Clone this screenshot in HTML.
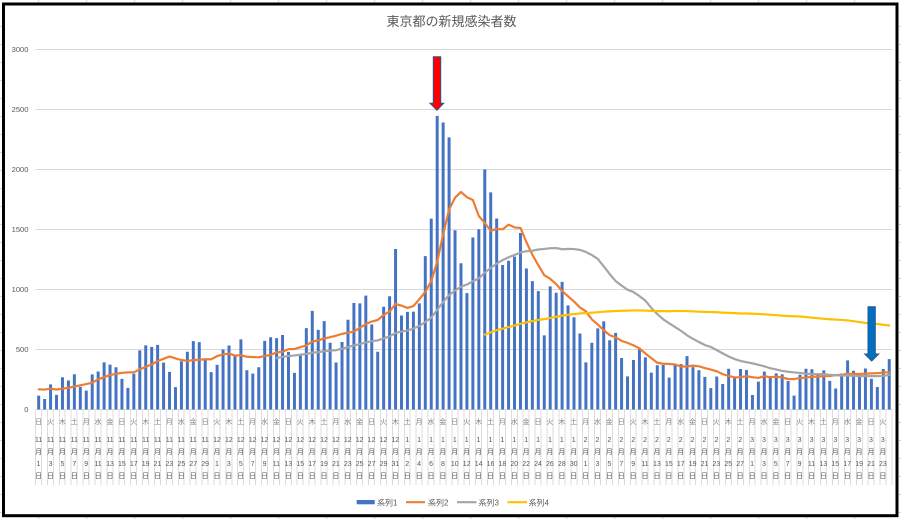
<!DOCTYPE html>
<html><head><meta charset="utf-8">
<style>
html,body{margin:0;padding:0;background:#fff;}
body{width:901px;height:519px;position:relative;overflow:hidden;font-family:"Liberation Sans","Noto Sans CJK JP",sans-serif;}
svg{position:absolute;left:0;top:0;}
#sep{position:absolute;left:35.2px;top:410px;width:857.5px;height:75px;background:repeating-linear-gradient(to right,#dcdcdc 0,#dcdcdc 1px,transparent 1px,transparent 5.948px);}
.row{position:absolute;left:32.7px;display:flex;font-size:7px;white-space:nowrap;}
.row i{font-style:normal;flex:none;width:11.896px;text-align:center;}
#wd{top:417px;line-height:11px;color:#808080;}
#dt{top:435.4px;line-height:11.7px;color:#595959;}
</style></head><body>
<div id="sep"></div>
<svg width="901" height="519" viewBox="0 0 901 519">
  <!-- spreadsheet grid ticks outside the frame -->
  <g stroke="#d4d4d4" stroke-width="1">
    <path d="M38.7,0v3M86.7,0v3M134.7,0v3M182.7,0v3M230.7,0v3M278.7,0v3M326.7,0v3M374.7,0v3M422.7,0v3M470.7,0v3M518.7,0v3M566.7,0v3M614.7,0v3M662.7,0v3M710.7,0v3M758.7,0v3M806.7,0v3M854.7,0v3"/>
    <path d="M38.7,517v2M86.7,517v2M134.7,517v2M182.7,517v2M230.7,517v2M278.7,517v2M326.7,517v2M374.7,517v2M422.7,517v2M470.7,517v2M518.7,517v2M566.7,517v2M614.7,517v2M662.7,517v2M710.7,517v2M758.7,517v2M806.7,517v2M854.7,517v2"/>
    <path d="M0,26.5h2M0,44.5h2M0,62.5h2M0,80.5h2M0,98.5h2M0,116.5h2M0,134.5h2M0,152.5h2M0,170.5h2M0,188.5h2M0,206.5h2M0,224.5h2M0,242.5h2M0,260.5h2M0,278.5h2M0,296.5h2M0,314.5h2M0,332.5h2M0,350.5h2M0,368.5h2M0,386.5h2M0,404.5h2M0,422.5h2M0,440.5h2M0,458.5h2M0,476.5h2M0,494.5h2M0,512.5h2"/>
    <path d="M899,26.5h2M899,44.5h2M899,62.5h2M899,80.5h2M899,98.5h2M899,116.5h2M899,134.5h2M899,152.5h2M899,170.5h2M899,188.5h2M899,206.5h2M899,224.5h2M899,242.5h2M899,260.5h2M899,278.5h2M899,296.5h2M899,314.5h2M899,332.5h2M899,350.5h2M899,368.5h2M899,386.5h2M899,404.5h2M899,422.5h2M899,440.5h2M899,458.5h2M899,476.5h2M899,494.5h2M899,512.5h2"/>
  </g>
  <!-- frame -->
  <rect x="3.5" y="4" width="893.5" height="511.7" fill="none" stroke="#000" stroke-width="3"/>
  <!-- title -->
  <text x="451.5" y="26" text-anchor="middle" font-size="13" fill="#595959" font-family="Liberation Sans, Noto Sans CJK JP, sans-serif">東京都の新規感染者数</text>
  <!-- gridlines -->
  <g stroke="#d9d9d9" stroke-width="1">
    <path d="M35.7,49.5H892.2M35.7,109.5H892.2M35.7,169.5H892.2M35.7,229.5H892.2M35.7,289.5H892.2M35.7,349.5H892.2M35.7,409.5H892.2"/>
  </g>
  <!-- y labels -->
  <g font-size="7.6" fill="#595959" text-anchor="end" font-family="Liberation Sans, sans-serif">
    <text x="28.5" y="52.2">3000</text>
    <text x="28.5" y="112.2">2500</text>
    <text x="28.5" y="172.2">2000</text>
    <text x="28.5" y="232.2">1500</text>
    <text x="28.5" y="292.2">1000</text>
    <text x="28.5" y="352.2">500</text>
    <text x="28.5" y="412.2">0</text>
  </g>
  <!-- bars -->
  <g transform="translate(35.7,409.5) scale(5.948,-0.12)">
    <path fill="#4472c4" d="M0.25,0
v116h.5v-116m.5,0v87h.5v-87m.5,0v209h.5v-209m.5,0v122h.5v-122m.5,0v269h.5v-269m.5,0v242h.5v-242m.5,0v294h.5v-294m.5,0v189h.5v-189m.5,0v157h.5v-157m.5,0v293h.5v-293m.5,0
v317h.5v-317m.5,0v393h.5v-393m.5,0v374h.5v-374m.5,0v352h.5v-352m.5,0v255h.5v-255m.5,0v180h.5v-180m.5,0v298h.5v-298m.5,0v493h.5v-493m.5,0v534h.5v-534m.5,0v522h.5v-522m.5,0
v539h.5v-539m.5,0v391h.5v-391m.5,0v314h.5v-314m.5,0v186h.5v-186m.5,0v401h.5v-401m.5,0v481h.5v-481m.5,0v570h.5v-570m.5,0v561h.5v-561m.5,0v418h.5v-418m.5,0v311h.5v-311m.5,0
v372h.5v-372m.5,0v500h.5v-500m.5,0v533h.5v-533m.5,0v449h.5v-449m.5,0v584h.5v-584m.5,0v327h.5v-327m.5,0v299h.5v-299m.5,0v352h.5v-352m.5,0v572h.5v-572m.5,0v602h.5v-602m.5,0
v595h.5v-595m.5,0v621h.5v-621m.5,0v480h.5v-480m.5,0v305h.5v-305m.5,0v460h.5v-460m.5,0v678h.5v-678m.5,0v822h.5v-822m.5,0v664h.5v-664m.5,0v736h.5v-736m.5,0v556h.5v-556m.5,0
v392h.5v-392m.5,0v563h.5v-563m.5,0v748h.5v-748m.5,0v888h.5v-888m.5,0v884h.5v-884m.5,0v949h.5v-949m.5,0v708h.5v-708m.5,0v481h.5v-481m.5,0v856h.5v-856m.5,0v944h.5v-944m.5,0
v1337h.5v-1337m.5,0
v783h.5v-783m.5,0v814h.5v-814m.5,0v816h.5v-816m.5,0v884h.5v-884m.5,0v1278h.5v-1278m.5,0v1591h.5v-1591m.5,0v2447h.5v-2447m.5,0v2392h.5v-2392m.5,0v2268h.5v-2268m.5,0v1494h.5v-1494m.5,0
v1219h.5v-1219m.5,0v970h.5v-970m.5,0v1433h.5v-1433m.5,0v1502h.5v-1502m.5,0v2001h.5v-2001m.5,0v1809h.5v-1809m.5,0v1592h.5v-1592m.5,0v1204h.5v-1204m.5,0v1240h.5v-1240m.5,0v1274h.5v-1274m.5,0
v1471h.5v-1471m.5,0v1175h.5v-1175m.5,0v1070h.5v-1070m.5,0v986h.5v-986m.5,0v618h.5v-618m.5,0v1026h.5v-1026m.5,0v973h.5v-973m.5,0v1064h.5v-1064m.5,0v868h.5v-868m.5,0v769h.5v-769m.5,0
v633h.5v-633m.5,0
v393h.5v-393m.5,0v556h.5v-556m.5,0v676h.5v-676m.5,0v734h.5v-734m.5,0v577h.5v-577m.5,0v639h.5v-639m.5,0v429h.5v-429m.5,0v276h.5v-276m.5,0v412h.5v-412m.5,0v500h.5v-500m.5,0
v434h.5v-434m.5,0v307h.5v-307m.5,0v369h.5v-369m.5,0v371h.5v-371m.5,0v266h.5v-266m.5,0v378h.5v-378m.5,0v378h.5v-378m.5,0v445h.5v-445m.5,0v353h.5v-353m.5,0v327h.5v-327m.5,0
v272h.5v-272m.5,0v178h.5v-178m.5,0v275h.5v-275m.5,0v213h.5v-213m.5,0v340h.5v-340m.5,0v270h.5v-270m.5,0v337h.5v-337m.5,0v329h.5v-329m.5,0
v121h.5v-121m.5,0v232h.5v-232m.5,0v316h.5v-316m.5,0v279h.5v-279m.5,0v301h.5v-301m.5,0v293h.5v-293m.5,0v237h.5v-237m.5,0v116h.5v-116m.5,0v290h.5v-290m.5,0v340h.5v-340m.5,0
v335h.5v-335m.5,0v304h.5v-304m.5,0v326h.5v-326m.5,0v239h.5v-239m.5,0v175h.5v-175m.5,0v300h.5v-300m.5,0v409h.5v-409m.5,0v323h.5v-323m.5,0v303h.5v-303m.5,0v342h.5v-342m.5,0
v256h.5v-256m.5,0v187h.5v-187m.5,0v337h.5v-337m.5,0v420h.5v-420m.5,0"/>
  </g>
  <!-- lines -->
  <polyline id="l2" fill="none" stroke="#ed7d31" stroke-width="2.2" stroke-linejoin="round" stroke-linecap="round" points=""/>
  <polyline id="l3" fill="none" stroke="#a5a5a5" stroke-width="2.2" stroke-linejoin="round" stroke-linecap="round" points=""/>
  <polyline id="l4" fill="none" stroke="#ffc000" stroke-width="2.2" stroke-linejoin="round" stroke-linecap="round" points=""/>
  <!-- arrows -->
  <polygon points="433.3,56.7 440.7,56.7 440.7,103.3 443.7,103.3 437,110.3 430,103.3 433.3,103.3" fill="#ff0000" stroke="#2f528f" stroke-width="1"/>
  <polygon points="868,306.7 875.3,306.7 875.3,354 878.7,354 871.7,361 864.7,354 868,354" fill="#0070c0" stroke="#2f528f" stroke-width="1"/>
  <!-- legend -->
  <g font-size="8" fill="#595959" font-family="Liberation Sans, Noto Sans CJK JP, sans-serif">
    <rect x="356.7" y="500" width="18" height="4.3" fill="#4472c4"/>
    <text x="377" y="505.5">系列1</text>
    <line x1="406" y1="502.2" x2="425" y2="502.2" stroke="#ed7d31" stroke-width="2.2"/>
    <text x="428" y="505.5">系列2</text>
    <line x1="457" y1="502.2" x2="476.5" y2="502.2" stroke="#a5a5a5" stroke-width="2.2"/>
    <text x="478.5" y="505.5">系列3</text>
    <line x1="507.5" y1="502.2" x2="527" y2="502.2" stroke="#ffc000" stroke-width="2.2"/>
    <text x="528.5" y="505.5">系列4</text>
  </g>
</svg>
<div class="row" id="wd"><i>日</i><i>火</i><i>木</i><i>土</i><i>月</i><i>水</i><i>金</i><i>日</i><i>火</i><i>木</i><i>土</i><i>月</i><i>水</i><i>金</i><i>日</i><i>火</i><i>木</i><i>土</i><i>月</i><i>水</i><i>金</i><i>日</i><i>火</i><i>木</i><i>土</i><i>月</i><i>水</i><i>金</i><i>日</i><i>火</i><i>木</i><i>土</i><i>月</i><i>水</i><i>金</i><i>日</i><i>火</i><i>木</i><i>土</i><i>月</i><i>水</i><i>金</i><i>日</i><i>火</i><i>木</i><i>土</i><i>月</i><i>水</i><i>金</i><i>日</i><i>火</i><i>木</i><i>土</i><i>月</i><i>水</i><i>金</i><i>日</i><i>火</i><i>木</i><i>土</i><i>月</i><i>水</i><i>金</i><i>日</i><i>火</i><i>木</i><i>土</i><i>月</i><i>水</i><i>金</i><i>日</i><i>火</i></div>
<div class="row" id="dt"><i>11<br>月<br>1<br>日</i><i>11<br>月<br>3<br>日</i><i>11<br>月<br>5<br>日</i><i>11<br>月<br>7<br>日</i><i>11<br>月<br>9<br>日</i><i>11<br>月<br>11<br>日</i><i>11<br>月<br>13<br>日</i><i>11<br>月<br>15<br>日</i><i>11<br>月<br>17<br>日</i><i>11<br>月<br>19<br>日</i><i>11<br>月<br>21<br>日</i><i>11<br>月<br>23<br>日</i><i>11<br>月<br>25<br>日</i><i>11<br>月<br>27<br>日</i><i>11<br>月<br>29<br>日</i><i>12<br>月<br>1<br>日</i><i>12<br>月<br>3<br>日</i><i>12<br>月<br>5<br>日</i><i>12<br>月<br>7<br>日</i><i>12<br>月<br>9<br>日</i><i>12<br>月<br>11<br>日</i><i>12<br>月<br>13<br>日</i><i>12<br>月<br>15<br>日</i><i>12<br>月<br>17<br>日</i><i>12<br>月<br>19<br>日</i><i>12<br>月<br>21<br>日</i><i>12<br>月<br>23<br>日</i><i>12<br>月<br>25<br>日</i><i>12<br>月<br>27<br>日</i><i>12<br>月<br>29<br>日</i><i>12<br>月<br>31<br>日</i><i>1<br>月<br>2<br>日</i><i>1<br>月<br>4<br>日</i><i>1<br>月<br>6<br>日</i><i>1<br>月<br>8<br>日</i><i>1<br>月<br>10<br>日</i><i>1<br>月<br>12<br>日</i><i>1<br>月<br>14<br>日</i><i>1<br>月<br>16<br>日</i><i>1<br>月<br>18<br>日</i><i>1<br>月<br>20<br>日</i><i>1<br>月<br>22<br>日</i><i>1<br>月<br>24<br>日</i><i>1<br>月<br>26<br>日</i><i>1<br>月<br>28<br>日</i><i>1<br>月<br>30<br>日</i><i>2<br>月<br>1<br>日</i><i>2<br>月<br>3<br>日</i><i>2<br>月<br>5<br>日</i><i>2<br>月<br>7<br>日</i><i>2<br>月<br>9<br>日</i><i>2<br>月<br>11<br>日</i><i>2<br>月<br>13<br>日</i><i>2<br>月<br>15<br>日</i><i>2<br>月<br>17<br>日</i><i>2<br>月<br>19<br>日</i><i>2<br>月<br>21<br>日</i><i>2<br>月<br>23<br>日</i><i>2<br>月<br>25<br>日</i><i>2<br>月<br>27<br>日</i><i>3<br>月<br>1<br>日</i><i>3<br>月<br>3<br>日</i><i>3<br>月<br>5<br>日</i><i>3<br>月<br>7<br>日</i><i>3<br>月<br>9<br>日</i><i>3<br>月<br>11<br>日</i><i>3<br>月<br>13<br>日</i><i>3<br>月<br>15<br>日</i><i>3<br>月<br>17<br>日</i><i>3<br>月<br>19<br>日</i><i>3<br>月<br>21<br>日</i><i>3<br>月<br>23<br>日</i></div>
<script>
(function(){
var d=[215,124,102,158,171,221,196,215,
116,87,209,122,269,242,294,189,157,293,317,393,374,352,255,180,298,493,534,522,539,391,314,186,401,481,570,561,418,311,
372,500,533,449,584,327,299,352,572,602,595,621,480,305,460,678,822,664,736,556,392,563,748,888,884,949,708,481,856,944,1337,
783,814,816,884,1278,1591,2447,2392,2268,1494,1219,970,1433,1502,2001,1809,1592,1204,1240,1274,1471,1175,1070,986,618,1026,973,1064,868,769,633,
393,556,676,734,577,639,429,276,412,500,434,307,369,371,266,378,378,445,353,327,272,178,275,213,340,270,337,329,
121,232,316,279,301,293,237,116,290,340,335,304,326,239,175,300,409,323,303,342,256,187,337,420];
var O=8;
function pts(w,start){
  var s=[];
  for(var i=start;i<144;i++){
    var sum=0;
    for(var k=0;k<w;k++){sum+=d[O+i-k];}
    var v=sum/w;
    s.push((35.7+(i+0.5)*5.948).toFixed(2)+','+(409.5-v*0.12).toFixed(2));
  }
  return s.join(' ');
}
document.getElementById('l2').setAttribute('points',pts(7,0));
document.getElementById('l3').setAttribute('points',pts(28,40));
document.getElementById('l4').setAttribute('points',pts(84,75));
})();
</script>
</body></html>
